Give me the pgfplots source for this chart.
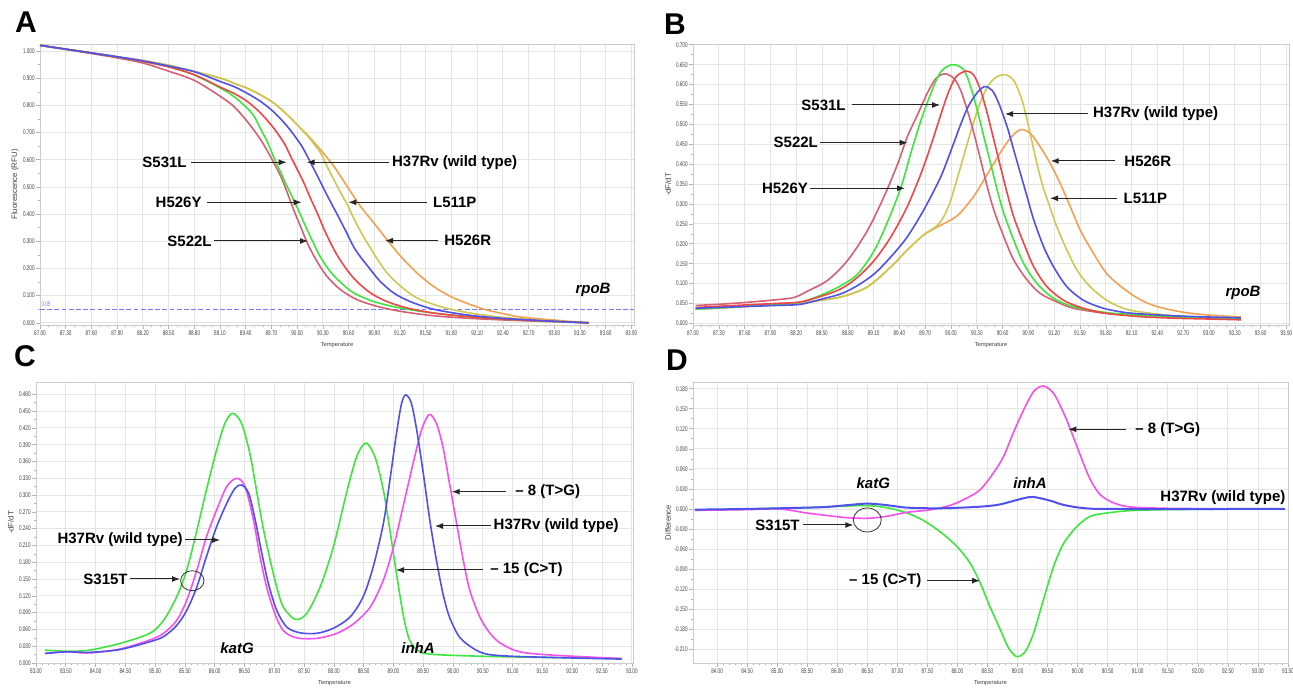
\documentclass[border=0pt]{standalone}
\usepackage{fontspec}
\setmainfont{Liberation Sans}
\newfontfamily\tickfont[FakeStretch=0.68]{Liberation Sans}
\usepackage{pgfplots}
\pgfplotsset{compat=1.18}
\usetikzlibrary{arrows.meta}

\definecolor{cRose}{RGB}{215,95,115}
\definecolor{cGreen}{RGB}{60,230,60}
\definecolor{cRed}{RGB}{240,70,70}
\definecolor{cBlue}{RGB}{80,80,235}
\definecolor{cYellow}{RGB}{205,200,80}
\definecolor{cOrange}{RGB}{245,160,80}
\definecolor{cPink}{RGB}{245,80,235}
\definecolor{cThr}{RGB}{120,120,255}

\pgfplotsset{
  panel/.style={
    scale only axis, anchor=south west,
    axis line style={gray!40},
    grid=major, major grid style={gray!20, line width=0.4pt},
    tick pos=left, tick align=outside,
    major tick length=1.8pt, minor tick length=1pt,
    tick style={gray!60, line width=0.3pt},
    ticklabel style={font=\tickfont\fontsize{3.4}{4}\selectfont, text=black!75, inner sep=0.7pt},
    xticklabel style={/pgf/number format/.cd, fixed, fixed zerofill, precision=2},
    yticklabel style={/pgf/number format/.cd, fixed, fixed zerofill, precision=3},
    /pgf/number format/assume math mode=true,
    scaled ticks=false,
    xlabel=Temperature,
    xlabel style={font=\fontsize{2.9}{3}\selectfont, text=black!75,
      at={(axis description cs:0.5,-0.071)}, anchor=center},
    ylabel style={font=\fontsize{3.9}{4}\selectfont, text=black!75,
      at={(axis description cs:-0.042,0.5)}, anchor=center},
    minor y tick num=1,
    every axis plot/.append style={line width=0.8pt, smooth, tension=0.5, mark=none},
  },
}

\begin{document}
\begin{tikzpicture}
\path[use as bounding box] (0,0) rectangle (646.5pt,344pt);

% ---------------- A: melt curves, rpoB
\begin{axis}[panel,
  at={(20pt,181.5pt)}, width=297pt, height=140.5pt,
  xmin=87.0, xmax=93.93, ymin=-0.008, ymax=1.026,
  xtick={87.0,87.3,87.6,87.9,88.2,88.5,88.8,89.1,89.4,89.7,90.0,90.3,90.6,90.9,91.2,91.5,91.8,92.1,92.4,92.7,93.0,93.3,93.6,93.9},
  ytick={0,0.1,0.2,0.3,0.4,0.5,0.6,0.7,0.8,0.9,1.0},
  minor x tick num=2,
  ylabel={Fluorescence (RFU)},
]
\addplot[draw=cThr, line width=0.6pt, sharp plot, dash pattern=on 2.4pt off 1.2pt] coordinates {(87.0,0.05) (93.93,0.05)};
% H526R
\addplot[cOrange] coordinates {
  (87.0,1.021) (87.3,1.007) (87.6,0.993) (87.9,0.979) (88.2,0.965) (88.5,0.948)
  (88.8,0.925) (89.11,0.900) (89.265,0.881) (89.42,0.863) (89.576,0.838) (89.73,0.808)
  (89.887,0.765) (90.04,0.716) (90.12,0.691) (90.275,0.636) (90.43,0.575) (90.586,0.501)
  (90.74,0.428) (90.896,0.367) (91.05,0.305) (91.21,0.244) (91.40,0.183) (91.59,0.134)
  (91.79,0.097) (91.98,0.072) (92.18,0.050) (92.37,0.036) (92.61,0.021) (93.0,0.010) (93.4,0.0)};
% L511P
\addplot[cYellow] coordinates {
  (87.0,1.021) (87.3,1.007) (87.6,0.993) (87.9,0.979) (88.2,0.965) (88.5,0.948)
  (88.8,0.925) (89.11,0.900) (89.265,0.881) (89.42,0.863) (89.576,0.838) (89.73,0.808)
  (89.887,0.765) (90.04,0.716) (90.16,0.673) (90.275,0.624) (90.35,0.575) (90.43,0.526)
  (90.51,0.477) (90.586,0.434) (90.66,0.385) (90.74,0.336) (90.82,0.293) (90.94,0.232)
  (91.05,0.183) (91.21,0.134) (91.40,0.091) (91.67,0.060) (91.98,0.038) (92.37,0.021)
  (92.8,0.010) (93.1,0.005) (93.4,0.0)};
% S522L
\addplot[cRose] coordinates {
  (87.0,1.021) (87.3,1.006) (87.6,0.991) (87.9,0.975) (88.2,0.956) (88.5,0.926)
  (88.8,0.892) (89.11,0.832) (89.265,0.795) (89.42,0.740) (89.576,0.673) (89.69,0.611)
  (89.81,0.538) (89.887,0.477) (89.96,0.415) (90.04,0.354) (90.12,0.293) (90.22,0.232)
  (90.35,0.170) (90.51,0.121) (90.70,0.085) (90.94,0.060) (91.21,0.042) (91.59,0.026)
  (91.98,0.017) (92.37,0.011) (92.8,0.006) (93.1,0.003) (93.4,0.0)};
% H526Y
\addplot[cGreen] coordinates {
  (87.0,1.021) (87.3,1.007) (87.6,0.993) (87.9,0.978) (88.2,0.962) (88.5,0.942)
  (88.8,0.912) (89.11,0.863) (89.265,0.832) (89.42,0.789) (89.50,0.759) (89.576,0.712)
  (89.654,0.665) (89.73,0.607) (89.81,0.552) (89.887,0.499) (89.96,0.452) (90.04,0.397)
  (90.12,0.340) (90.197,0.289) (90.275,0.240) (90.39,0.187) (90.51,0.148) (90.66,0.110)
  (90.896,0.078) (91.21,0.054) (91.59,0.036) (91.98,0.023) (92.37,0.014) (92.8,0.008)
  (93.1,0.004) (93.4,0.0)};
% S531L
\addplot[cRed] coordinates {
  (87.0,1.021) (87.3,1.007) (87.6,0.993) (87.9,0.978) (88.2,0.962) (88.5,0.942)
  (88.8,0.913) (89.11,0.866) (89.265,0.844) (89.42,0.814) (89.576,0.771) (89.73,0.715)
  (89.85,0.660) (89.925,0.612) (90.0,0.565) (90.08,0.514) (90.16,0.455) (90.24,0.400)
  (90.31,0.347) (90.39,0.294) (90.47,0.247) (90.586,0.193) (90.70,0.151) (90.86,0.109)
  (91.05,0.078) (91.29,0.054) (91.59,0.036) (91.98,0.023) (92.37,0.014) (92.8,0.008)
  (93.1,0.004) (93.4,0.0)};
% H37Rv
\addplot[cBlue] coordinates {
  (87.0,1.021) (87.3,1.007) (87.6,0.993) (87.9,0.979) (88.2,0.964) (88.5,0.945)
  (88.8,0.924) (89.11,0.887) (89.265,0.869) (89.42,0.844) (89.576,0.814) (89.73,0.775)
  (89.887,0.722) (90.04,0.657) (90.12,0.612) (90.197,0.565) (90.275,0.516) (90.35,0.469)
  (90.43,0.421) (90.51,0.373) (90.586,0.326) (90.66,0.279) (90.74,0.242) (90.86,0.194)
  (90.97,0.152) (91.13,0.109) (91.32,0.078) (91.59,0.050) (91.98,0.029) (92.37,0.017)
  (92.8,0.009) (93.1,0.004) (93.4,0.0)};
\end{axis}

% ---------------- B: derivative, rpoB
\begin{axis}[panel,
  at={(346.5pt,181.5pt)}, width=298pt, height=140.5pt,
  xmin=87.0, xmax=93.93, ymin=-0.004, ymax=0.702,
  xtick={87.0,87.3,87.6,87.9,88.2,88.5,88.8,89.1,89.4,89.7,90.0,90.3,90.6,90.9,91.2,91.5,91.8,92.1,92.4,92.7,93.0,93.3,93.6,93.9},
  ytick={0,0.05,0.1,0.15,0.2,0.25,0.3,0.35,0.4,0.45,0.5,0.55,0.6,0.65,0.7},
  minor x tick num=2,
  ylabel={-dF/dT},
]
\addplot[cOrange] coordinates {
  (87.03,0.036) (87.3,0.039) (87.57,0.042) (87.95,0.047) (88.34,0.054) (88.73,0.067)
  (89.03,0.092) (89.30,0.142) (89.49,0.184) (89.68,0.222) (89.84,0.242) (89.99,0.259)
  (90.10,0.276) (90.267,0.320) (90.422,0.375) (90.576,0.430) (90.692,0.466) (90.808,0.487)
  (90.924,0.477) (91.039,0.443) (91.155,0.401) (91.271,0.351) (91.387,0.293) (91.503,0.234)
  (91.656,0.176) (91.811,0.125) (92.004,0.088) (92.197,0.060) (92.4,0.042) (92.7,0.028)
  (93.0,0.021) (93.37,0.016)};
\addplot[cYellow] coordinates {
  (87.03,0.036) (87.3,0.038) (87.57,0.042) (87.95,0.047) (88.34,0.054) (88.73,0.067)
  (89.03,0.092) (89.30,0.142) (89.49,0.184) (89.68,0.222) (89.84,0.246) (89.92,0.270)
  (90.00,0.312) (90.10,0.385) (90.20,0.460) (90.30,0.530) (90.40,0.585) (90.50,0.615)
  (90.623,0.625) (90.73,0.610) (90.827,0.560) (90.904,0.493) (90.981,0.418) (91.059,0.351)
  (91.136,0.301) (91.232,0.242) (91.348,0.184) (91.464,0.134) (91.618,0.092) (91.811,0.058)
  (92.004,0.038) (92.197,0.029) (92.6,0.019) (93.0,0.014) (93.37,0.011)};
\addplot[cRose] coordinates {
  (87.03,0.045) (87.3,0.048) (87.57,0.052) (87.9,0.058) (88.17,0.065) (88.34,0.082)
  (88.57,0.109) (88.80,0.159) (89.03,0.234) (89.22,0.318) (89.38,0.401) (89.49,0.468)
  (89.612,0.525) (89.728,0.580) (89.824,0.615) (89.928,0.627) (90.036,0.615) (90.113,0.585)
  (90.19,0.535) (90.267,0.477) (90.345,0.410) (90.422,0.343) (90.499,0.284) (90.615,0.217)
  (90.73,0.159) (90.885,0.109) (91.039,0.075) (91.232,0.054) (91.425,0.038) (91.811,0.025)
  (92.197,0.021) (92.6,0.016) (93.0,0.013) (93.37,0.011)};
\addplot[cGreen] coordinates {
  (87.03,0.036) (87.3,0.039) (87.57,0.043) (87.95,0.048) (88.25,0.053) (88.53,0.075)
  (88.73,0.096) (88.92,0.125) (89.11,0.184) (89.27,0.259) (89.42,0.343) (89.53,0.426)
  (89.65,0.510) (89.76,0.575) (89.86,0.625) (89.95,0.645) (90.044,0.650) (90.152,0.636)
  (90.229,0.594) (90.306,0.535) (90.383,0.468) (90.461,0.401) (90.538,0.334) (90.615,0.276)
  (90.73,0.209) (90.846,0.150) (91.0,0.100) (91.193,0.063) (91.425,0.042) (91.811,0.027)
  (92.197,0.021) (92.6,0.016) (93.0,0.013) (93.37,0.011)};
\addplot[cRed] coordinates {
  (87.03,0.040) (87.3,0.043) (87.57,0.046) (87.95,0.050) (88.25,0.054) (88.53,0.071)
  (88.73,0.088) (88.92,0.117) (89.11,0.159) (89.30,0.217) (89.49,0.293) (89.65,0.376)
  (89.76,0.443) (89.86,0.510) (89.96,0.575) (90.06,0.620) (90.183,0.634) (90.267,0.623)
  (90.345,0.585) (90.422,0.527) (90.499,0.460) (90.576,0.393) (90.654,0.326) (90.73,0.267)
  (90.846,0.201) (90.962,0.142) (91.117,0.092) (91.31,0.058) (91.541,0.038) (91.811,0.025)
  (92.197,0.017) (92.6,0.013) (93.0,0.011) (93.37,0.009)};
\addplot[cBlue] coordinates {
  (87.03,0.038) (87.3,0.040) (87.57,0.042) (87.95,0.045) (88.25,0.048) (88.53,0.063)
  (88.73,0.075) (88.92,0.096) (89.11,0.125) (89.30,0.167) (89.49,0.217) (89.68,0.284)
  (89.88,0.368) (90.03,0.452) (90.10,0.493) (90.20,0.545) (90.306,0.580) (90.391,0.595)
  (90.48,0.585) (90.557,0.552) (90.654,0.493) (90.73,0.435) (90.808,0.376) (90.885,0.318)
  (90.962,0.260) (91.078,0.192) (91.193,0.142) (91.348,0.092) (91.541,0.058) (91.772,0.038)
  (92.004,0.028) (92.197,0.024) (92.6,0.019) (93.0,0.016) (93.37,0.014)};
\end{axis}

% ---------------- C: derivative, katG + inhA
\begin{axis}[panel,
  at={(18pt,12.5pt)}, width=298.5pt, height=140.5pt,
  xmin=83.0, xmax=93.02, ymin=0, ymax=0.502,
  xtick={83,83.5,84,84.5,85,85.5,86,86.5,87,87.5,88,88.5,89,89.5,90,90.5,91,91.5,92,92.5,93},
  ytick={0,0.03,0.06,0.09,0.12,0.15,0.18,0.21,0.24,0.27,0.30,0.33,0.36,0.39,0.42,0.45,0.48},
  minor x tick num=4,
  ylabel={-dF/dT},
]
\addplot[cGreen] coordinates {
  (83.15,0.023) (83.52,0.021) (83.9,0.023) (84.41,0.035) (84.91,0.053) (85.14,0.076)
  (85.36,0.118) (85.53,0.166) (85.70,0.237) (85.86,0.309) (86.03,0.380) (86.17,0.428)
  (86.30,0.446) (86.45,0.428) (86.59,0.374) (86.70,0.309) (86.81,0.243) (86.93,0.184)
  (87.04,0.136) (87.15,0.100) (87.35,0.078) (87.54,0.088) (87.77,0.136) (87.99,0.207)
  (88.21,0.303) (88.38,0.368) (88.537,0.393) (88.69,0.368) (88.83,0.309) (88.94,0.237)
  (89.05,0.160) (89.16,0.088) (89.27,0.041) (89.44,0.020) (89.72,0.015) (90.5,0.012)
  (91.5,0.010) (92.83,0.008)};
\addplot[cPink] coordinates {
  (83.15,0.017) (83.52,0.020) (83.9,0.018) (84.41,0.025) (84.91,0.041) (85.14,0.053)
  (85.36,0.076) (85.53,0.112) (85.70,0.166) (85.86,0.225) (86.03,0.273) (86.20,0.315)
  (86.37,0.330) (86.51,0.315) (86.65,0.255) (86.76,0.190) (86.87,0.136) (87.01,0.088)
  (87.15,0.058) (87.37,0.045) (87.71,0.044) (88.05,0.053) (88.33,0.070) (88.61,0.100)
  (88.83,0.148) (89.0,0.207) (89.16,0.279) (89.33,0.357) (89.47,0.416) (89.60,0.444)
  (89.72,0.428) (89.83,0.386) (89.94,0.321) (90.06,0.249) (90.17,0.184) (90.28,0.130)
  (90.45,0.082) (90.62,0.053) (90.8,0.035) (91.12,0.020) (91.68,0.014) (92.83,0.008)};
\addplot[cBlue] coordinates {
  (83.15,0.017) (83.52,0.020) (83.9,0.019) (84.41,0.024) (84.91,0.038) (85.14,0.047)
  (85.36,0.067) (85.53,0.094) (85.70,0.136) (85.86,0.190) (86.03,0.243) (86.20,0.285)
  (86.34,0.312) (86.45,0.318) (86.57,0.303) (86.68,0.255) (86.79,0.196) (86.90,0.142)
  (87.04,0.094) (87.21,0.064) (87.43,0.054) (87.71,0.053) (87.99,0.062) (88.27,0.082)
  (88.49,0.118) (88.66,0.172) (88.83,0.249) (88.94,0.327) (89.05,0.410) (89.136,0.464)
  (89.208,0.479) (89.30,0.464) (89.39,0.416) (89.50,0.339) (89.61,0.255) (89.72,0.184)
  (89.83,0.124) (89.94,0.082) (90.11,0.046) (90.34,0.026) (90.56,0.016) (91.0,0.012)
  (92.0,0.009) (92.83,0.007)};
\end{axis}

% ---------------- D: difference plot
\begin{axis}[panel,
  at={(346.5pt,12.5pt)}, width=297.5pt, height=140.5pt,
  xmin=83.6, xmax=93.5, ymin=-0.2305, ymax=0.190,
  xtick={84,84.5,85,85.5,86,86.5,87,87.5,88,88.5,89,89.5,90,90.5,91,91.5,92,92.5,93,93.5},
  ytick={-0.21,-0.18,-0.15,-0.12,-0.09,-0.06,-0.03,0,0.03,0.06,0.09,0.12,0.15,0.18},
  minor x tick num=4,
  ylabel={Difference},
]
\addplot[cGreen] coordinates {
  (83.63,-0.002) (84.5,0.0) (85.5,0.002) (86.04,0.004) (86.49,0.005) (86.82,0.002)
  (87.16,-0.006) (87.43,-0.017) (87.71,-0.034) (87.99,-0.056) (88.21,-0.081) (88.38,-0.111)
  (88.54,-0.146) (88.71,-0.180) (88.85,-0.208) (88.99,-0.221) (89.13,-0.213) (89.27,-0.185)
  (89.43,-0.136) (89.60,-0.086) (89.77,-0.051) (89.99,-0.026) (90.21,-0.011) (90.49,-0.006)
  (90.88,-0.0025) (91.5,-0.001) (92.8,0.0)};
\addplot[cPink] coordinates {
  (83.63,-0.002) (84.5,-0.001) (85.04,0.0) (85.49,-0.006) (85.85,-0.010) (86.16,-0.013)
  (86.5,-0.014) (86.82,-0.011) (87.16,-0.005) (87.49,-0.002) (87.71,0.0015) (87.9,0.006)
  (88.15,0.016) (88.38,0.029) (88.60,0.054) (88.77,0.079) (88.93,0.114) (89.10,0.148)
  (89.27,0.176) (89.43,0.184) (89.60,0.173) (89.77,0.143) (89.88,0.119) (90.05,0.079)
  (90.21,0.044) (90.38,0.021) (90.60,0.009) (90.88,0.003) (91.5,0.001) (92.8,0.0)};
\addplot[cBlue, line width=1pt] coordinates {
  (83.63,-0.001) (84.5,0.0) (85.5,0.002) (85.82,0.003) (86.2,0.006) (86.5,0.008)
  (86.8,0.006) (87.16,0.002) (87.71,0.001) (88.3,0.003) (88.66,0.006) (88.93,0.012)
  (89.1,0.016) (89.26,0.018) (89.54,0.0125) (89.77,0.006) (90.10,0.0013) (90.6,0.0)
  (93.45,0.0)};
\end{axis}

% ---------------- annotations (pixel coordinates of the 1293x688 layout)
\begin{scope}[shift={(0pt,344pt)}, x=0.5pt, y=-0.5pt,
  lab/.style={font=\fontsize{7.5}{8}\selectfont\bfseries, inner sep=0pt},
  gene/.style={font=\fontsize{7.5}{8}\selectfont\bfseries\itshape, inner sep=0pt},
  big/.style={font=\fontsize{15}{15}\selectfont\bfseries, inner sep=0pt},
  arr/.style={-{Latex[length=4pt,width=3pt]}, line width=0.5pt, black!85}]
% A
\node[big] at (26,22.5) {A};
\node[lab, anchor=east] at (187,162.3) {S531L};
\draw[arr] (191,162.3) -- (286.7,162.3);
\node[lab, anchor=east] at (202,202.3) {H526Y};
\draw[arr] (207,202.3) -- (301.7,202.3);
\node[lab, anchor=east] at (212,241) {S522L};
\draw[arr] (214,241) -- (308,241);
\node[lab, anchor=west] at (391.7,162.3) {H37Rv (wild type)};
\draw[arr] (389,162.3) -- (306.7,162.3);
\node[lab, anchor=west] at (432.7,202.3) {L511P};
\draw[arr] (427,202.3) -- (348.3,202.3);
\node[lab, anchor=west] at (444,240.7) {H526R};
\draw[arr] (438.3,240.7) -- (385,240.7);
\node[gene] at (593,290) {rpoB};
\node[font=\tickfont\fontsize{3.4}{4}\selectfont, text=cThr, inner sep=0pt] at (46,304) {0.05};
% B
\node[big] at (675,24) {B};
\node[lab, anchor=east] at (846,105) {S531L};
\draw[arr] (851.7,105) -- (940,105);
\node[lab, anchor=east] at (818.3,142.7) {S522L};
\draw[arr] (820,142.7) -- (907.7,142.7);
\node[lab, anchor=east] at (808.3,188.3) {H526Y};
\draw[arr] (810,188.3) -- (905,188.3);
\node[lab, anchor=west] at (1092.7,114) {H37Rv (wild type)};
\draw[arr] (1088.3,114) -- (1005,114);
\node[lab, anchor=west] at (1124,161) {H526R};
\draw[arr] (1115,161) -- (1050.7,161);
\node[lab, anchor=west] at (1123.3,198.3) {L511P};
\draw[arr] (1116.7,198.3) -- (1050,198.3);
\node[gene] at (1243,293) {rpoB};
% C
\node[big] at (25,356) {C};
\node[lab, anchor=east] at (183,540) {H37Rv (wild type)};
\draw[arr] (185,540) -- (220,540);
\node[lab, anchor=east] at (128,579) {S315T};
\draw[arr] (130,579) -- (180,579);
\draw[line width=0.4pt, black!80] (192.3,580.7) ellipse [x radius=5.85pt, y radius=5pt];
\node[gene] at (237,648) {katG};
\node[gene] at (418,648) {inhA};
\node[lab, anchor=west] at (515,491.7) {– 8 (T>G)};
\draw[arr] (506,491.7) -- (451.7,491.7);
\node[lab, anchor=west] at (493.3,526) {H37Rv (wild type)};
\draw[arr] (491,526) -- (435,526);
\node[lab, anchor=west] at (490,570) {– 15 (C>T)};
\draw[arr] (483,570) -- (396,570);
% D
\node[big] at (677,360) {D};
\node[gene] at (873.3,483.3) {katG};
\node[lab, anchor=east] at (800,525) {S315T};
\draw[arr] (803,525) -- (853.3,525);
\draw[line width=0.4pt, black!80] (867.3,520) ellipse [x radius=7pt, y radius=6pt];
\node[lab, anchor=east] at (921.7,580.7) {– 15 (C>T)};
\draw[arr] (926.7,580.7) -- (980,580.7);
\node[gene] at (1030,483.3) {inhA};
\node[lab, anchor=west] at (1160,497.7) {H37Rv (wild type)};
\node[lab, anchor=west] at (1135,429.3) {– 8 (T>G)};
\draw[arr] (1126,429.3) -- (1068.3,429.3);
\end{scope}
\end{tikzpicture}
\end{document}
